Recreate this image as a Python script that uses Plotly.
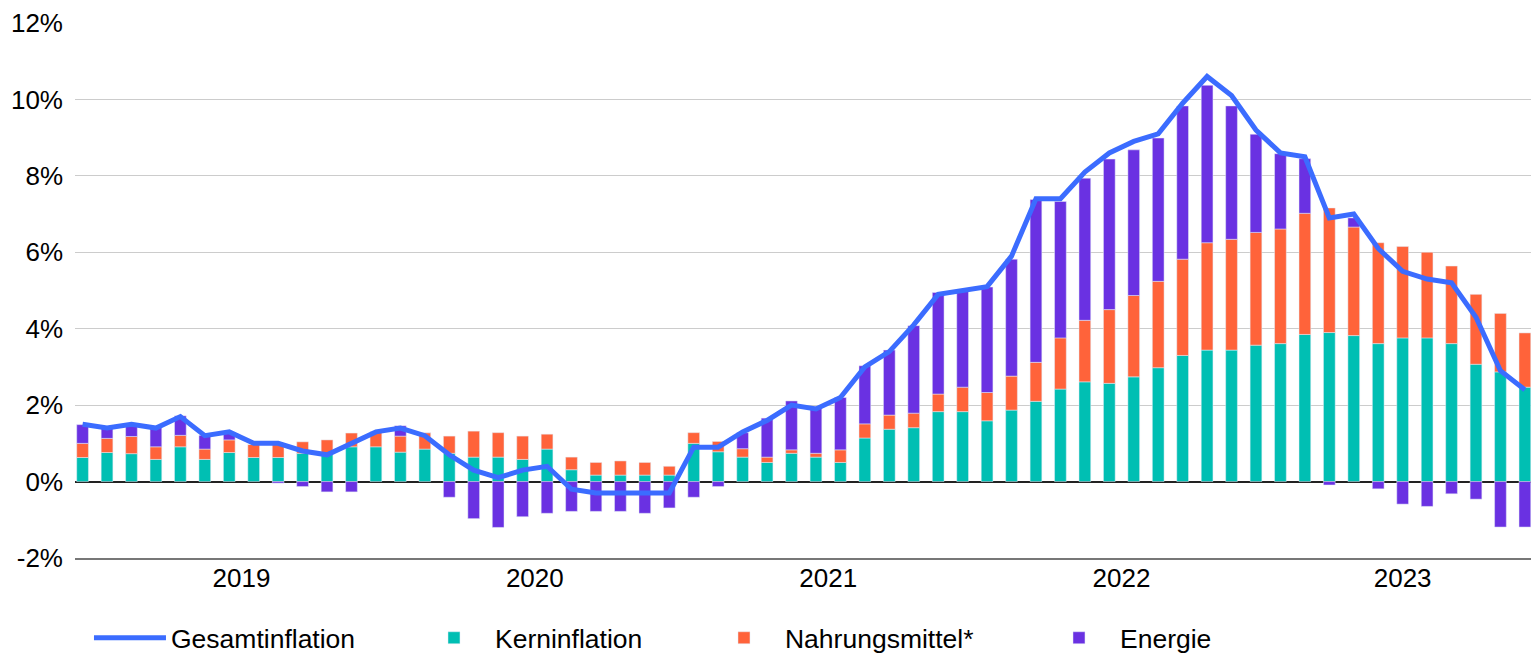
import plotly.graph_objects as go

# Monthly data, Dec 2018 .. Nov 2023 (index 0..59)
months = [f"{y}-{m:02d}" for y, m in ([(2018, 12)] + [(y, m) for y in range(2019, 2023) for m in range(1, 13)] + [(2023, m) for m in range(1, 12)])]

gesamtinflation = [1.5, 1.4, 1.5, 1.4, 1.7, 1.2, 1.3, 1.0, 1.0, 0.8, 0.7, 1.0,
                   1.3, 1.4, 1.2, 0.7, 0.3, 0.1, 0.3, 0.4, -0.2, -0.3, -0.3, -0.3,
                   -0.3, 0.9, 0.9, 1.3, 1.6, 2.0, 1.9, 2.2, 3.0, 3.4, 4.1, 4.9,
                   5.0, 5.1, 5.9, 7.4, 7.4, 8.1, 8.6, 8.9, 9.1, 9.9, 10.6, 10.1,
                   9.2, 8.6, 8.5, 6.9, 7.0, 6.1, 5.5, 5.3, 5.2, 4.3, 2.9, 2.4]

kerninflation = [0.63, 0.76, 0.73, 0.58, 0.91, 0.58, 0.76, 0.63, 0.63, 0.74, 0.74, 0.91,
                 0.91, 0.77, 0.85, 0.74, 0.64, 0.64, 0.58, 0.85, 0.31, 0.17, 0.17, 0.17,
                 0.17, 1.00, 0.78, 0.64, 0.50, 0.74, 0.64, 0.50, 1.14, 1.37, 1.41, 1.83,
                 1.83, 1.59, 1.87, 2.10, 2.42, 2.61, 2.57, 2.74, 2.98, 3.30, 3.44, 3.44,
                 3.57, 3.61, 3.85, 3.90, 3.82, 3.61, 3.76, 3.76, 3.61, 3.07, 2.87, 2.47]

nahrungsmittel = [0.37, 0.37, 0.45, 0.33, 0.30, 0.27, 0.33, 0.34, 0.38, 0.30, 0.35, 0.36,
                  0.40, 0.42, 0.43, 0.45, 0.68, 0.64, 0.61, 0.39, 0.33, 0.33, 0.37, 0.33,
                  0.23, 0.28, 0.27, 0.22, 0.14, 0.09, 0.10, 0.33, 0.37, 0.37, 0.38, 0.46,
                  0.64, 0.74, 0.89, 1.02, 1.34, 1.61, 1.93, 2.13, 2.26, 2.52, 2.81, 2.90,
                  2.95, 3.00, 3.17, 3.26, 2.84, 2.64, 2.39, 2.24, 2.03, 1.83, 1.53, 1.42]

energie = [0.49, 0.29, 0.32, 0.51, 0.51, 0.36, 0.20, 0.0, -0.04, -0.13, -0.27, -0.27,
           0.0, 0.27, 0.0, -0.41, -0.97, -1.20, -0.92, -0.83, -0.78, -0.78, -0.78, -0.83,
           -0.69, -0.41, -0.13, 0.42, 1.02, 1.28, 1.22, 1.37, 1.52, 1.70, 2.29, 2.66,
           2.51, 2.76, 3.06, 4.26, 3.57, 3.72, 3.94, 3.81, 3.75, 4.01, 4.12, 3.49,
           2.57, 1.97, 1.43, -0.09, 0.24, -0.19, -0.59, -0.65, -0.32, -0.46, -1.19, -1.19]

year_labels = ["2019", "2020", "2021", "2022", "2023"]
year_centers = [6.5, 18.5, 30.5, 42.5, 54.0]

y_ticks = [-2, 0, 2, 4, 6, 8, 10, 12]
y_tick_labels = ["-2%", "0%", "2%", "4%", "6%", "8%", "10%", "12%"]

x = list(range(len(months)))

FONT = "Liberation Sans, Arial, sans-serif"

C_LINE = "#3B6CFF"
C_CORE = "#00BFB3"
C_FOOD = "#FF633A"
C_ENERGY = "#6A31E2"

fig = go.Figure()
fig.add_trace(go.Scatter(x=x, y=gesamtinflation, name="Gesamtinflation", mode="lines",
                         line=dict(color=C_LINE, width=5), customdata=months,
                         legendwidth=237))
fig.add_trace(go.Bar(x=x, y=kerninflation, name="Kerninflation", marker_color=C_CORE,
                     width=0.48, customdata=months, legendwidth=203))
fig.add_trace(go.Bar(x=x, y=nahrungsmittel, name="Nahrungsmittel*", marker_color=C_FOOD,
                     width=0.48, customdata=months, legendwidth=248))
fig.add_trace(go.Bar(x=x, y=energie, name="Energie", marker_color=C_ENERGY,
                     width=0.48, customdata=months))

fig.update_layout(
    width=1531, height=660,
    margin=dict(l=75, r=0, t=22.5, b=101.8),
    paper_bgcolor="white", plot_bgcolor="white",
    barmode="relative",
    font=dict(family=FONT, size=26, color="#000000"),
    showlegend=True,
    legend=dict(orientation="h", x=0.0096, xanchor="left",
                yref="container", y=0.0333, yanchor="middle",
                itemwidth=72, traceorder="normal", font=dict(size=26.5),
                bgcolor="rgba(0,0,0,0)"),
    xaxis=dict(range=[-0.31, 59.25], showgrid=False, zeroline=False, automargin=False,
               tickmode="array", tickvals=year_centers, ticktext=year_labels,
               ticks="", showline=True, linecolor="#777777", linewidth=1.5,
               ticklabelstandoff=-4),
    yaxis=dict(range=[-2, 12], tickmode="array", tickvals=y_ticks, ticktext=y_tick_labels,
               showgrid=True, gridcolor="#CCCCCC", gridwidth=1.3, automargin=False,
               zeroline=True, zerolinecolor="#222222", zerolinewidth=1.8,
               ticks="", ticklabelstandoff=11),
)

fig.write_html("out.html", config={"displayModeBar": False},
               post_script="document.body.style.margin='0';document.body.style.overflow='hidden';")
